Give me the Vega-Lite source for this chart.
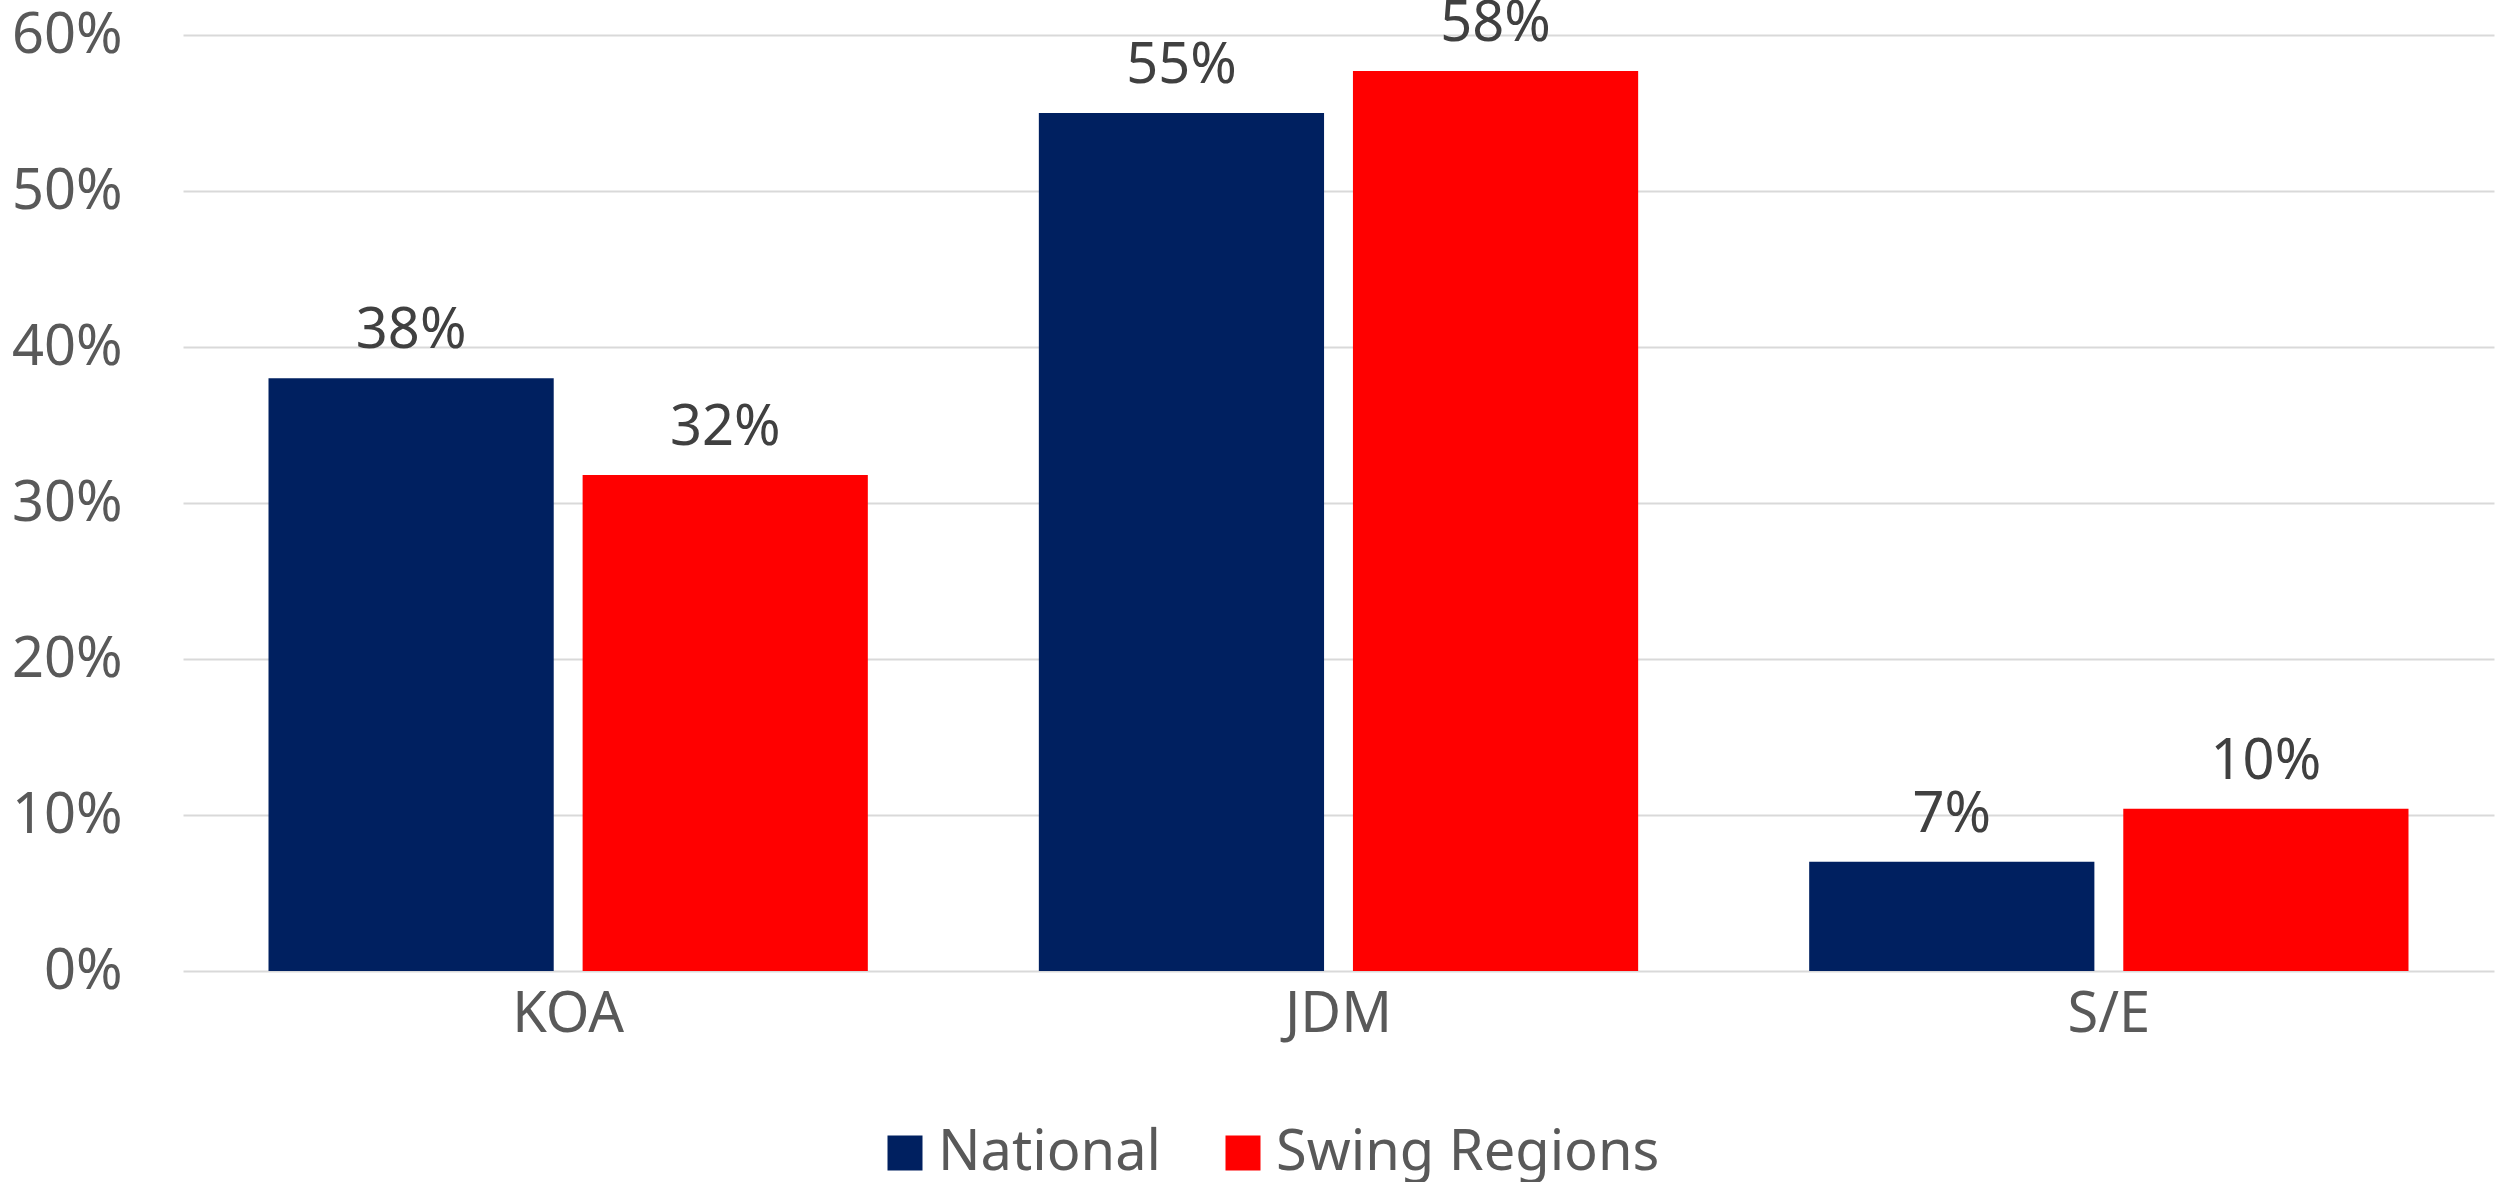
{
  "$schema": "https://vega.github.io/schema/vega-lite/v6.json",
  "width": 2311,
  "height": 936,
  "autosize": {"type": "none"},
  "padding": {"left": 183, "top": 35, "right": 5, "bottom": 211},
  "background": "white",
  "config": {"font": "Noto Sans", "view": {"stroke": null}},
  "data": {
    "values": [
      {"cat": "KOA", "series": "National", "value": 0.38},
      {"cat": "KOA", "series": "Swing Regions", "value": 0.318},
      {"cat": "JDM", "series": "National", "value": 0.55},
      {"cat": "JDM", "series": "Swing Regions", "value": 0.577},
      {"cat": "S/E", "series": "National", "value": 0.07},
      {"cat": "S/E", "series": "Swing Regions", "value": 0.104}
    ]
  },
  "encoding": {
    "x": {
      "field": "cat", "type": "nominal", "sort": ["KOA", "JDM", "S/E"],
      "scale": {"paddingInner": 0.222, "paddingOuter": 0.111},
      "axis": {"title": null, "labelAngle": 0, "ticks": false, "domain": false, "labelFontSize": 56, "labelColor": "#595959", "labelPadding": 16}
    },
    "xOffset": {
      "field": "series", "type": "nominal", "sort": ["National", "Swing Regions"],
      "scale": {"paddingInner": 0.092, "paddingOuter": 0}
    },
    "y": {
      "field": "value", "type": "quantitative",
      "scale": {"domain": [0, 0.6], "nice": false},
      "axis": {"title": null, "format": ".0%", "values": [0, 0.1, 0.2, 0.3, 0.4, 0.5, 0.6], "grid": true, "gridColor": "#d9d9d9", "gridWidth": 2, "domain": false, "ticks": false, "labelFontSize": 56, "labelColor": "#595959", "labelPadding": 61}
    }
  },
  "layer": [
    {
      "mark": {"type": "bar"},
      "encoding": {
        "color": {
          "field": "series", "type": "nominal", "sort": ["National", "Swing Regions"],
          "scale": {"domain": ["National", "Swing Regions"], "range": ["#002060", "#FF0000"]},
          "legend": {"title": null, "orient": "none", "legendX": 694, "legendY": 1090, "direction": "horizontal", "symbolType": "square", "symbolSize": 1225, "symbolStrokeWidth": 0, "labelFontSize": 56, "labelLimit": 800, "labelColor": "#595959", "labelOffset": 5, "columnPadding": 54}
        }
      }
    },
    {
      "mark": {"type": "text", "baseline": "alphabetic", "dy": -30, "fontSize": 56, "color": "#404040"},
      "encoding": {
        "text": {"field": "value", "type": "quantitative", "format": ".0%"}
      }
    }
  ]
}
